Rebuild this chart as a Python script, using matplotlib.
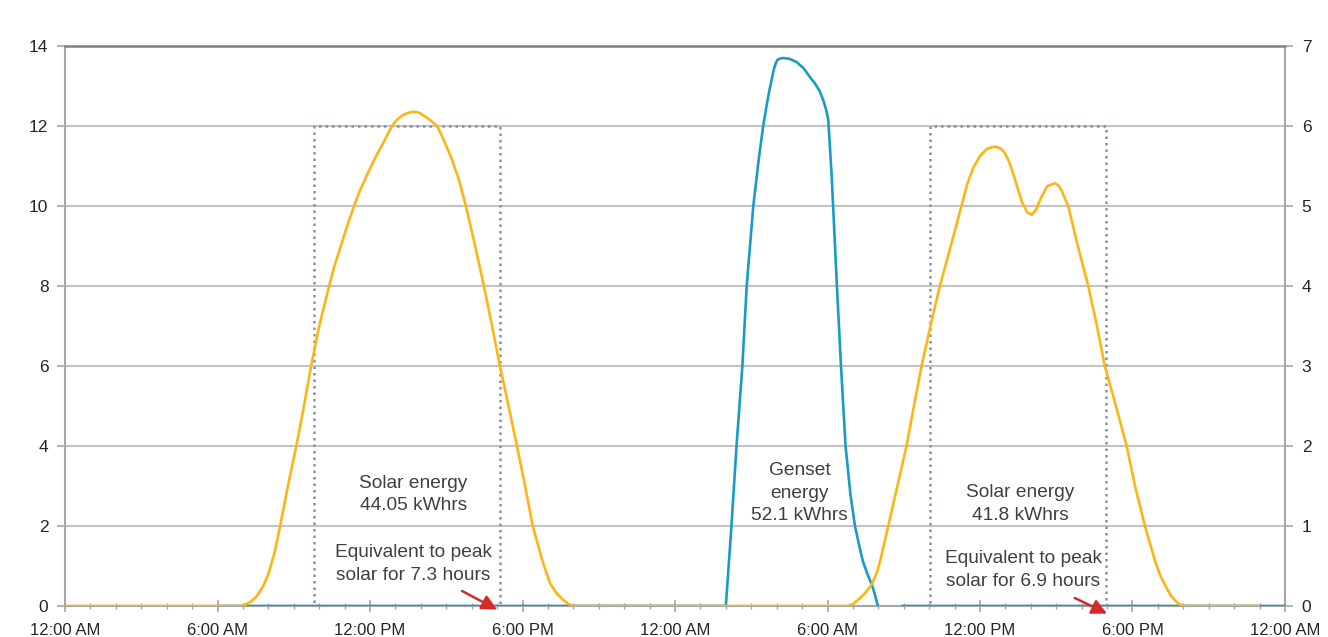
import numpy as np
import matplotlib
matplotlib.use("Agg")
import matplotlib.pyplot as plt
from matplotlib.patches import Rectangle

# hours since midnight of day 1, values in kW
solar_hours = [0, 6.9, 7.1, 7.3, 7.55, 7.8, 8.0, 8.25, 8.46, 8.8, 9.1, 9.4, 9.68, 10.0, 10.39,
               10.6, 10.85, 11.1, 11.37, 11.6, 11.9, 12.2, 12.5, 12.6, 12.86, 13.05, 13.3, 13.5,
               13.73, 13.95, 14.2, 14.4, 14.64, 14.9, 15.2, 15.5, 15.77, 16.1, 16.48, 16.8,
               17.11, 17.45, 17.78, 18.1, 18.4, 18.6, 18.75, 18.9, 19.08, 19.3, 19.6, 19.8, 20.0,
               30.8, 31.0, 31.2, 31.45, 31.73, 31.95, 32.1, 32.39, 32.75, 33.11, 33.4, 33.7,
               34.05, 34.42, 34.85, 35.27, 35.5, 35.73, 36.0, 36.26, 36.45, 36.65, 36.85, 37.0,
               37.15, 37.3, 37.65, 37.85, 38.03, 38.2, 38.4, 38.65, 38.95, 39.1, 39.2, 39.47,
               39.85, 40.26, 40.6, 40.91, 41.35, 41.77, 42.1, 42.49, 42.9, 43.1, 43.3, 43.5,
               43.7, 43.85, 44.0, 47.0]
solar_kw = [0, 0, 0.04, 0.1, 0.25, 0.5, 0.8, 1.35, 2.0, 3.1, 4.0, 5.0, 6.0, 7.0, 8.0,
            8.5, 9.0, 9.5, 10.0, 10.38, 10.8, 11.2, 11.55, 11.68, 12.0, 12.15, 12.28, 12.33,
            12.36, 12.33, 12.22, 12.13, 12.0, 11.65, 11.2, 10.65, 10.0, 9.1, 8.0, 7.0,
            6.0, 5.0, 4.0, 3.0, 2.0, 1.55, 1.2, 0.9, 0.57, 0.35, 0.15, 0.05, 0,
            0, 0.05, 0.15, 0.3, 0.525, 0.85, 1.2, 2.0, 3.0, 4.0, 5.0, 6.0,
            7.0, 8.0, 9.0, 10.0, 10.55, 10.95, 11.25, 11.42, 11.47, 11.48, 11.42, 11.3,
            11.1, 10.82, 10.1, 9.85, 9.78, 9.9, 10.2, 10.5, 10.57, 10.5, 10.4, 10.0,
            9.0, 8.0, 7.0, 6.0, 5.0, 4.0, 3.0, 2.0, 1.1, 0.75, 0.5, 0.27,
            0.12, 0.04, 0, 0]

genset_hours = [6.0, 26.0, 26.22, 26.42, 26.65, 26.82, 27.08, 27.3, 27.47, 27.6, 27.7, 27.8,
                27.88, 27.97, 28.03, 28.1, 28.25, 28.5, 28.78, 29.05, 29.3, 29.5, 29.7, 29.83,
                29.95, 30.03, 30.16, 30.22, 30.37, 30.53, 30.71, 30.9, 31.08, 31.25, 31.4,
                31.6, 31.75, 31.88, 31.98, 32.4, 32.9, 48.0]
genset_kw = [0, 0, 2, 4, 6, 8, 10, 11.2, 12, 12.5, 12.85, 13.15,
             13.4, 13.58, 13.65, 13.68, 13.7, 13.68, 13.6, 13.45, 13.23, 13.07, 12.86, 12.65,
             12.4, 12.15, 10.8, 10.0, 8, 6, 4, 2.8, 2, 1.5, 1.1,
             0.75, 0.525, 0.25, 0, np.nan, 0, 0]

x_labels = ["12:00 AM", "6:00 AM", "12:00 PM", "6:00 PM",
            "12:00 AM", "6:00 AM", "12:00 PM", "6:00 PM", "12:00 AM"]

# peak-solar boxes: start hour, end hour, height
boxes = [(9.8, 17.1, 12), (34.05, 40.95, 12)]

notes = [
    (13.7, 2.78, "Solar energy\n44.05 kWhrs"),
    (13.7, 1.05, "Equivalent to peak\nsolar for 7.3 hours"),
    (28.9, 2.82, "Genset\nenergy\n52.1 kWhrs"),
    (37.6, 2.55, "Solar energy\n41.8 kWhrs"),
    (37.7, 0.9, "Equivalent to peak\nsolar for 6.9 hours"),
]
arrows = [((15.62, 0.375), (17.0, -0.09)), ((39.73, 0.2), (41.0, -0.19))]

tick_font = ["Liberation Sans Narrow", "Liberation Sans", "DejaVu Sans"]

fig = plt.figure(figsize=(13.28, 6.37), dpi=100)
ax = fig.add_axes([0.049, 0.0487, 0.9186, 0.8791])

ax.plot(genset_hours, genset_kw, color="#1a9bc4", lw=1.9, zorder=3, solid_capstyle="butt")
ax.plot(solar_hours, solar_kw, color="#fdb515", lw=1.9, zorder=4, solid_capstyle="butt")

for x0, x1, h in boxes:
    ax.add_patch(Rectangle((x0, 0), x1 - x0, h, fill=False, ls=(0, (1, 1.6)),
                           lw=1.8, edgecolor="#7f93b3", zorder=2))

for x, y, t in notes:
    ax.text(x, y, t, ha="center", va="center", fontsize=13.8, color="#404040",
            family=["Liberation Sans", "DejaVu Sans"], linespacing=1.4, zorder=5)

for (x0, y0), (x1, y1) in arrows:
    ax.annotate("", xy=(x1, y1), xytext=(x0, y0), annotation_clip=False,
                arrowprops=dict(arrowstyle="-|>,head_length=0.9,head_width=0.45",
                                color="#d42a2a", lw=1.8, shrinkA=0, shrinkB=0),
                zorder=6)

ax.set_xlim(0, 48)
ax.set_ylim(0, 14)
ax.set_xticks(np.arange(0, 49, 6))
ax.set_xticklabels(x_labels)
ax.set_xticks(np.arange(0, 49, 1), minor=True)
ax.set_yticks(np.arange(0, 15, 2))

ax.grid(axis="y", color="#c3c3c3", lw=1.5, zorder=0)
ax.set_axisbelow(True)
for s in ["left", "right", "bottom"]:
    ax.spines[s].set_color("#a6a6a6")
    ax.spines[s].set_linewidth(1.5)
ax.spines["top"].set_color("#7f7f7f")
ax.spines["top"].set_linewidth(1.8)

ax.tick_params(axis="x", which="major", direction="inout", length=9, width=1.2,
               color="#a6a6a6", pad=8, labelsize=12, labelcolor="#262626")
ax.tick_params(axis="x", which="minor", direction="inout", length=5, width=1.0,
               color="#a6a6a6")
ax.tick_params(axis="y", direction="out", length=6, width=1.2, color="#a6a6a6",
               pad=6, labelsize=12.5, labelcolor="#262626")

ax2 = ax.twinx()
ax2.set_ylim(0, 7)
ax2.set_yticks(np.arange(0, 8, 1))
ax2.tick_params(axis="y", direction="out", length=6, width=1.2, color="#a6a6a6",
                pad=6, labelsize=12.5, labelcolor="#262626")
for s in ax2.spines.values():
    s.set_visible(False)

for lab in ax.get_xticklabels() + ax.get_yticklabels() + ax2.get_yticklabels():
    lab.set_family(tick_font)

fig.savefig("out.png", dpi=100)
